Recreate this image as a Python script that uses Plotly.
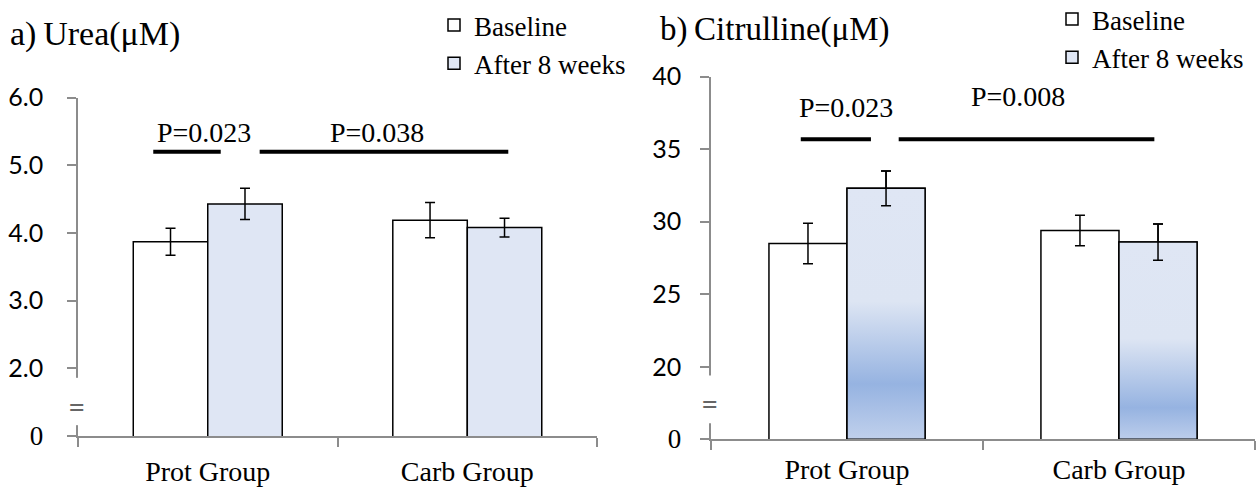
import plotly.graph_objects as go

# ---------------- data ----------------
categories = ["Prot Group", "Carb Group"]
series_names = ["Baseline", "After 8 weeks"]

urea_baseline = [3.87, 4.19]
urea_baseline_err = [0.20, 0.26]
urea_after = [4.43, 4.08]
urea_after_err = [0.23, 0.14]

cit_baseline = [28.5, 29.4]
cit_baseline_err = [1.4, 1.05]
cit_after = [32.3, 28.6]
cit_after_err = [1.2, 1.25]

urea_tickvals = [1, 2, 3, 4, 5, 6]
urea_ticktext = ["0", "2.0", "3.0", "4.0", "5.0", "6.0"]
cit_tickvals = [15, 20, 25, 30, 35, 40]
cit_ticktext = ["0", "20", "25", "30", "35", "40"]

urea_p_labels = ["P=0.023", "P=0.038"]
cit_p_labels = ["P=0.023", "P=0.008"]

panel_titles = ["a)\u2009Urea(\u03bcM)", "b)\u2009Citrulline(\u03bcM)"]

# ---------------- style ----------------
SERIF = "Liberation Serif, Times New Roman, serif"
SANS = "Lato, Open Sans, sans-serif"
AXIS_GRAY = "#8c8c8c"
AFTER_FILL = "#dfe6f4"
BW = 0.287
idx = list(range(len(categories)))

fig = go.Figure()

def bar_pair(xa, ya, base_v, base_e, after_v, after_e, legend_name):
    fig.add_trace(go.Bar(
        x=idx, y=base_v, width=BW, offset=-BW, name=series_names[0],
        marker=dict(color="white", line=dict(color="black", width=1.5)),
        error_y=dict(type="data", array=base_e, color="black", thickness=1.5, width=5),
        legend=legend_name, xaxis=xa, yaxis=ya, hoverinfo="skip"))
    fig.add_trace(go.Bar(
        x=idx, y=after_v, width=BW, offset=0, name=series_names[1],
        marker=dict(color=AFTER_FILL, line=dict(color="black", width=1.5)),
        error_y=dict(type="data", array=after_e, color="black", thickness=1.5, width=5),
        legend=legend_name, xaxis=xa, yaxis=ya, hoverinfo="skip"))

bar_pair("x", "y", urea_baseline, urea_baseline_err, urea_after, urea_after_err, "legend")
bar_pair("x2", "y2", cit_baseline, cit_baseline_err, cit_after, cit_after_err, "legend2")

# gradient fill for the citrulline "after" bars
gradients = [
    [[0, "#c0d0ec"], [0.22, "#96b3e1"], [0.55, "#dde5f3"], [1, "#dfe6f4"]],
    [[0, "#bccdeb"], [0.16, "#96b3e1"], [0.51, "#dde5f3"], [1, "#dfe6f4"]],
]
ybottom = cit_tickvals[0]
for i, v in enumerate(cit_after):
    fig.add_trace(go.Scatter(
        x=[i, i + BW, i + BW, i, i], y=[ybottom, ybottom, v, v, ybottom],
        mode="lines", fill="toself",
        fillgradient=dict(type="vertical", colorscale=gradients[i]),
        line=dict(color="black", width=1.5),
        showlegend=False, hoverinfo="skip", xaxis="x2", yaxis="y2"))
# error bars on top of the gradient
fig.add_trace(go.Scatter(
    x=[i + BW / 2 for i in idx], y=cit_after, mode="markers",
    marker=dict(size=2, color="rgba(0,0,0,0)"),
    error_y=dict(type="data", array=cit_after_err, color="black", thickness=1.5, width=5),
    showlegend=False, hoverinfo="skip", xaxis="x2", yaxis="y2"))

# ---------------- axes ----------------
x1_dom = [0.0620, 0.4746]
x2_dom = [0.5652, 0.9976]
y1_dom = [0.1102, 0.8006]
y2_dom = [0.1035, 0.8435]

def xaxis_cfg(dom, anchor, standoff):
    return dict(
        domain=dom, anchor=anchor, range=[-0.5, 1.5],
        tickmode="array", tickvals=idx, ticktext=categories,
        ticks="", showline=True, linecolor=AXIS_GRAY, linewidth=1.5,
        showgrid=False, zeroline=False, ticklabelstandoff=standoff,
        tickfont=dict(family=SERIF, size=28, color="black"),
        minor=dict(tickmode="array", tickvals=[-0.5, 0.5, 1.5], ticks="outside",
                   ticklen=9, tickwidth=1.5, tickcolor=AXIS_GRAY, showgrid=False),
    )

def serif0(t):
    return t if t != "0" else "<span style=\"font-family:'Liberation Serif',serif;font-size:27px\">0</span>"

def yaxis_cfg(dom, anchor, rng, tv, tt, standoff):
    return dict(
        domain=dom, anchor=anchor, range=rng,
        tickmode="array", tickvals=tv, ticktext=[serif0(t) for t in tt],
        ticks="outside", ticklen=9, tickwidth=1.5, tickcolor=AXIS_GRAY,
        showline=True, linecolor=AXIS_GRAY, linewidth=1.5,
        showgrid=False, zeroline=False, ticklabelstandoff=standoff,
        tickfont=dict(family=SANS, size=25, color="black"),
    )

fig.update_layout(
    xaxis=xaxis_cfg(x1_dom, "y", 10),
    yaxis=yaxis_cfg(y1_dom, "x", [urea_tickvals[0], urea_tickvals[-1]], urea_tickvals, urea_ticktext, 19),
    xaxis2=xaxis_cfg(x2_dom, "y2", 4),
    yaxis2=yaxis_cfg(y2_dom, "x2", [cit_tickvals[0], cit_tickvals[-1]], cit_tickvals, cit_ticktext, 14),
)

# ---------------- decorations ----------------
shapes = []
annotations = []

# axis breaks
for dom, yref, y0, y1, ymid in [(x1_dom, "y", 1.16, 1.86, 1.45), (x2_dom, "y2", 16.1, 19.4, 17.5)]:
    shapes.append(dict(type="rect", xref="paper", yref=yref, x0=dom[0] - 0.005, x1=dom[0] + 0.005,
                       y0=y0, y1=y1, fillcolor="white", line=dict(width=0), layer="above"))
    annotations.append(dict(x=dom[0] - 0.001, y=ymid, xref="paper", yref=yref, text="=", showarrow=False,
                            xanchor="center", yanchor="middle",
                            font=dict(family=SANS, size=30, color="#666666")))

# significance lines & labels
def sig(xref, yref, lines, labels, label_pos):
    for (x0, x1, y) in lines:
        shapes.append(dict(type="line", xref=xref, yref=yref, x0=x0, x1=x1, y0=y, y1=y,
                           line=dict(color="black", width=4)))
    for txt, (x, y) in zip(labels, label_pos):
        annotations.append(dict(x=x, y=y, xref=xref, yref=yref, text=txt, showarrow=False,
                                xanchor="center", yanchor="middle",
                                font=dict(family=SERIF, size=28, color="black")))

sig("x", "y", [(-0.21, 0.05, 5.20), (0.20, 1.158, 5.20)], urea_p_labels, [(-0.015, 5.48), (0.654, 5.48)])
sig("x2", "y2", [(-0.17, 0.088, 35.69), (0.19, 1.13, 35.69)], cit_p_labels, [(-0.004, 37.85), (0.63, 38.6)])

# panel titles
annotations.append(dict(x=8 / 1258, y=1 - 34 / 490, xref="paper", yref="paper", text=panel_titles[0],
                        showarrow=False, xanchor="left", yanchor="middle",
                        font=dict(family=SERIF, size=34, color="black")))
annotations.append(dict(x=658 / 1258, y=1 - 30 / 490, xref="paper", yref="paper", text=panel_titles[1],
                        showarrow=False, xanchor="left", yanchor="middle",
                        font=dict(family=SERIF, size=33, color="black")))

legend_common = dict(xanchor="left", yanchor="top", bgcolor="rgba(0,0,0,0)", borderwidth=0,
                     font=dict(family=SERIF, size=27, color="black"), tracegroupgap=0,
                     itemclick=False, itemdoubleclick=False)

fig.update_layout(
    width=1258, height=490,
    margin=dict(l=0, r=0, t=0, b=0, autoexpand=False),
    paper_bgcolor="white", plot_bgcolor="white",
    barmode="overlay",
    shapes=shapes, annotations=annotations,
    legend=dict(x=434 / 1258, y=1 - 1 / 490, **legend_common),
    legend2=dict(x=1052 / 1258, y=1 + 5 / 490, **legend_common),
)

fig.write_html("out.html", config={"displayModeBar": False},
               post_script="document.body.style.margin='0';document.body.style.padding='0';")
